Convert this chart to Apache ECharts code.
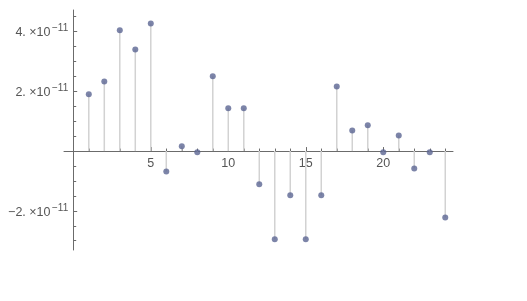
<!DOCTYPE html>
<html>
<head>
<meta charset="utf-8">
<script src="https://cdn.jsdelivr.net/npm/echarts@6/dist/echarts.min.js"></script>
<style>html,body{margin:0;padding:0;background:#fff}#c{width:527px;height:301px}</style>
</head>
<body>
<div id="c"></div>
<script>
// values are in units of 1e-11
const SCALE_EXP = -11;
const xValues = [1,2,3,4,5,6,7,8,9,10,11,12,13,14,15,16,17,18,19,20,21,22,23,24];
const yValues = [1.90,2.33,4.04,3.40,4.27,-0.68,0.16,-0.04,2.50,1.43,1.43,-1.11,-2.95,-1.48,-2.95,-1.48,2.16,0.69,0.86,-0.04,0.52,-0.58,-0.04,-2.22];
const xTickLabels = [5,10,15,20];
const yTickLabels = [-2,2,4];

const X_MIN = -0.6, X_MAX = 24.5, Y_MIN = -3.31, Y_MAX = 4.72;
const data = xValues.map((x,i)=>[x, yValues[i]]);
const chart = echarts.init(document.getElementById('c'), null, {renderer:'canvas'});
const axisColor = '#6b6b6b';
const textColor = '#555';
const font = 'Liberation Sans';
chart.setOption({
  animation:false,
  grid:{left:64, width:389, top:10, height:240, containLabel:false},
  xAxis:{
    type:'value', min:X_MIN, max:X_MAX, splitNumber:5, position:'bottom',
    axisLine:{onZero:false, lineStyle:{color:axisColor, width:1}},
    axisTick:{show:true, inside:true, length:4, customValues:[0,5,10,15,20], lineStyle:{color:axisColor}},
    minorTick:{show:true, splitNumber:5, length:2.5, lineStyle:{color:axisColor}},
    axisLabel:{customValues:xTickLabels, margin:6, color:textColor, fontSize:12.5, fontFamily:font},
    splitLine:{show:false}, minorSplitLine:{show:false}
  },
  yAxis:{
    type:'value', min:Y_MIN, max:Y_MAX, splitNumber:5, position:'left',
    axisLine:{onZero:false, lineStyle:{color:axisColor, width:1}},
    axisTick:{show:true, inside:true, length:4, customValues:[-2,0,2,4], lineStyle:{color:axisColor}},
    minorTick:{show:true, splitNumber:4, length:3, lineStyle:{color:axisColor}},
    axisLabel:{
      customValues:yTickLabels, margin:5, color:textColor, fontFamily:font,
      formatter:function(v){
        const m = (v<0?'\u2212':'') + Math.abs(v) + '. \u00d710';
        return '{b|'+m+'}{s|\u2212'+Math.abs(SCALE_EXP)+'}';
      },
      rich:{
        b:{fontSize:12.5, color:textColor, fontFamily:font, verticalAlign:'bottom', lineHeight:16},
        s:{fontSize:10, color:textColor, fontFamily:font, verticalAlign:'top', lineHeight:16, padding:[0,0,0,1.5]}
      }
    },
    splitLine:{show:false}, minorSplitLine:{show:false}
  },
  series:[
    {
      type:'custom', z:1,
      renderItem:function(params, api){
        const x = api.value(0), y = api.value(1);
        const p0 = api.coord([x,0]);
        const p1 = api.coord([x,y]);
        return {type:'line', shape:{x1:p0[0], y1:p0[1], x2:p1[0], y2:p1[1]}, style:{stroke:'#d2d2d2', lineWidth:1.5}};
      },
      data:data
    },
    {
      type:'scatter', z:3, symbol:'circle', symbolSize:6,
      itemStyle:{color:'#5b6592'},
      data:data
    }
  ]
});
// move both axes (line, ticks, labels) onto the origin, using the library's own scales
const zero = chart.convertToPixel({gridIndex:0}, [0,0]);
const bottomY = chart.convertToPixel({yAxisIndex:0}, Y_MIN);
const leftX = chart.convertToPixel({xAxisIndex:0}, X_MIN);
chart.setOption({
  xAxis:{offset: -(bottomY - zero[1])},
  yAxis:{offset: -(zero[0] - leftX)}
});
</script>
</body>
</html>
